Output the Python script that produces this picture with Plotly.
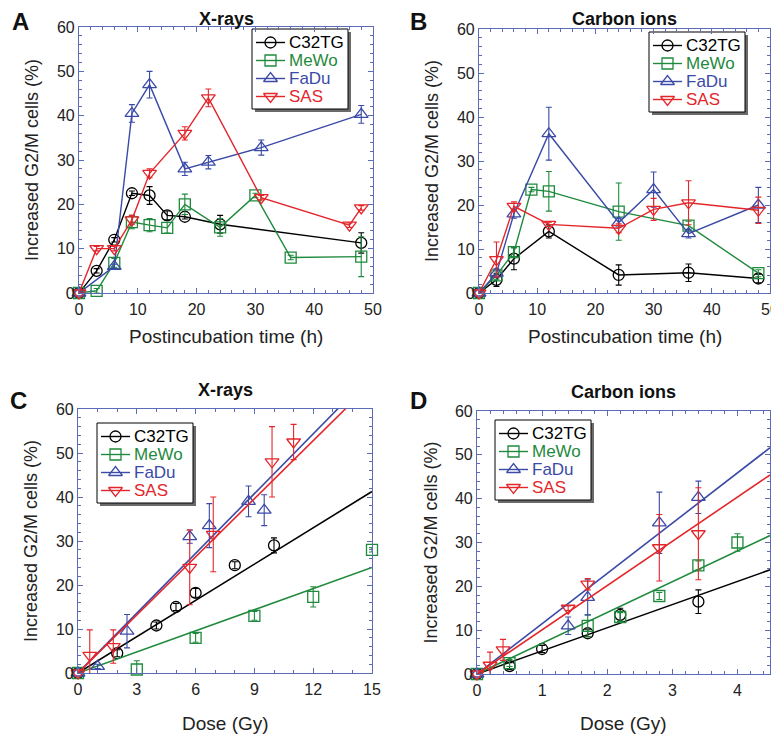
import plotly.graph_objects as go

# ---------------- DATA ----------------
series_names = ["C32TG", "MeWo", "FaDu", "SAS"]

# Panel A: X-rays, time course
a_c32_x = [0, 3, 6, 9, 12, 15, 18, 24, 48]
a_c32_y = [0, 5, 12, 22.5, 22, 17.5, 17.2, 15.5, 11.3]
a_c32_e = [0, 0.5, 0.5, 0.5, 2, 1, 0.5, 2, 2.3]
a_mewo_x = [0, 3, 6, 9, 12, 15, 18, 24, 30, 36, 48]
a_mewo_y = [0, 0.5, 6.8, 16, 15.3, 14.7, 20, 14.8, 22, 8, 8.2]
a_mewo_e = [0, 0.5, 1, 1.5, 1.5, 1.2, 2.3, 2, 0.5, 0.5, 4.5]
a_fadu_x = [0, 6, 9, 12, 18, 22, 31, 48]
a_fadu_y = [0, 6, 40.5, 47, 28, 29.5, 32.8, 40.3]
a_fadu_e = [0, 0.5, 2, 3, 1.5, 1.5, 1.7, 2]
a_sas_x = [0, 3, 6, 9, 12, 18, 22, 31, 46, 48]
a_sas_y = [0, 10, 10, 16.5, 27, 36, 44, 21.5, 15.3, 19.2]
a_sas_e = [0, 0.5, 0.5, 1, 1, 1.5, 2, 0.5, 0.5, 0.5]

# Panel B: Carbon ions, time course
b_c32_x = [0, 3, 6, 12, 24, 36, 48]
b_c32_y = [0, 3, 7.8, 14, 4.1, 4.6, 3.3]
b_c32_e = [0, 1.5, 2.5, 1.5, 2.3, 2, 1]
b_mewo_x = [0, 3, 6, 9, 12, 24, 36, 48]
b_mewo_y = [0, 4, 9.3, 23.5, 23.1, 18.5, 15.3, 4.5]
b_mewo_e = [0, 1, 1, 0.5, 4.5, 6.5, 1, 0.8]
b_fadu_x = [0, 3, 6, 12, 24, 30, 36, 48]
b_fadu_y = [0, 4.5, 18, 36.2, 16, 23.5, 13.5, 20]
b_fadu_e = [0, 1, 1, 6, 1, 4, 1, 4]
b_sas_x = [0, 3, 6, 12, 24, 30, 36, 48]
b_sas_y = [0, 7.6, 19.7, 15.6, 14.7, 19, 20.5, 18.8]
b_sas_e = [0, 4, 1, 0.5, 1, 2.5, 5, 3]

# Panel C: X-rays, dose response
c_c32_x = [0, 2, 4, 5, 6, 8, 10]
c_c32_y = [0, 4.5, 10.8, 15, 18.2, 24.5, 29]
c_c32_e = [0, 0.8, 0.8, 0.8, 1, 0.8, 1.7]
c_mewo_x = [0, 3, 6, 9, 12, 15]
c_mewo_y = [0, 0.8, 8, 13, 17.3, 28]
c_mewo_e = [0, 2, 1, 1, 2.3, 0.5]
c_fadu_x = [0, 1, 2.5, 5.7, 6.7, 8.7, 9.5]
c_fadu_y = [0, 1.5, 9.5, 31, 33.5, 39, 37]
c_fadu_e = [0, 0.5, 3.8, 1.5, 5, 3.5, 3.5]
c_sas_x = [0, 0.6, 1.8, 5.7, 6.9, 9.9, 11]
c_sas_y = [0, 4, 6, 24, 31.5, 48, 52.5]
c_sas_e = [0, 5.8, 3.8, 8.5, 8.5, 8, 4]
c_slopes = [2.75, 1.6, 4.53, 4.40]

# Panel D: Carbon ions, dose response
d_c32_x = [0, 0.5, 1, 1.7, 2.2, 3.4]
d_c32_y = [0, 1.8, 5.7, 9.3, 13.5, 16.5]
d_c32_e = [0, 0.8, 0.8, 0.8, 1.5, 2.7]
d_mewo_x = [0, 0.5, 1.7, 2.2, 2.8, 3.4, 4]
d_mewo_y = [0, 2.5, 11, 13, 17.8, 24.8, 30]
d_mewo_e = [0, 0.8, 2.5, 1, 0.8, 1, 2]
d_fadu_x = [0, 1.4, 1.7, 2.8, 3.4]
d_fadu_y = [0, 11, 17.5, 34.5, 40.3]
d_fadu_e = [0, 2, 4, 7, 3.7]
d_sas_x = [0, 0.2, 0.4, 1.4, 1.7, 2.8, 3.4]
d_sas_y = [0, 2, 5.5, 15, 20.5, 28.8, 32]
d_sas_e = [0, 3, 2.4, 0.5, 1.3, 7.6, 10.5]
d_slopes = [5.28, 7.02, 11.47, 10.09]

panel_titles = ["X-rays", "Carbon ions", "X-rays", "Carbon ions"]
panel_letters = ["A", "B", "C", "D"]
x_titles = ["Postincubation time (h)", "Postincubation time (h)", "Dose (Gy)", "Dose (Gy)"]
y_title = "Increased G2/M cells (%)"

# ---------------- STYLE ----------------
colors = ["#000000", "#1f8a3d", "#3a4aa6", "#e4262b"]
symbols = ["circle-open", "square-open", "triangle-up-open", "triangle-down-open"]
frame = "#5c6cb8"
FONT = "Liberation Sans, Arial, sans-serif"
VW, VH = 779, 735          # browser window
OFF = 8                    # default page body margin
W, H = VW - OFF, VH - OFF  # figure size so it fits the window

# pixel boxes (window coords) of plot areas (left, right, top, bottom)
boxes = [(79, 373, 27, 293), (479, 770, 29, 293), (78, 372, 409, 673), (477, 770, 411, 674)]
xranges = [[0, 50], [0, 50], [0, 15], [0, 4.5]]
xdticks = [10, 10, 3, 1]
legend_boxes = [(252, 29), (649, 32), (97, 423), (495, 420)]
title_y = [19, 19, 390, 392]
letter_pos = [(20, 22), (418, 22), (18, 400), (418, 400)]
xtitle_y = [336, 336, 723, 723]

fig = go.Figure()

def px2x(p):
    return (p - OFF) / W

def px2y(p):
    return 1 - (p - OFF) / H

panels = [
    [(a_c32_x, a_c32_y, a_c32_e), (a_mewo_x, a_mewo_y, a_mewo_e), (a_fadu_x, a_fadu_y, a_fadu_e), (a_sas_x, a_sas_y, a_sas_e)],
    [(b_c32_x, b_c32_y, b_c32_e), (b_mewo_x, b_mewo_y, b_mewo_e), (b_fadu_x, b_fadu_y, b_fadu_e), (b_sas_x, b_sas_y, b_sas_e)],
    [(c_c32_x, c_c32_y, c_c32_e), (c_mewo_x, c_mewo_y, c_mewo_e), (c_fadu_x, c_fadu_y, c_fadu_e), (c_sas_x, c_sas_y, c_sas_e)],
    [(d_c32_x, d_c32_y, d_c32_e), (d_mewo_x, d_mewo_y, d_mewo_e), (d_fadu_x, d_fadu_y, d_fadu_e), (d_sas_x, d_sas_y, d_sas_e)],
]
slopes = [None, None, c_slopes, d_slopes]

annotations = []
shapes = []
layout = {}

def marker_style(i):
    return dict(symbol=symbols[i], size=11 if i < 2 else 12, color=colors[i],
                line=dict(width=1.3, color=colors[i]))

for p in range(4):
    sfx = "" if p == 0 else str(p + 1)
    xa, ya = "x" + sfx, "y" + sfx
    for i in range(4):
        x, y, e = panels[p][i]
        if slopes[p] is not None:
            xmax = xranges[p][1]
            fig.add_trace(go.Scatter(
                x=[0, xmax], y=[0, slopes[p][i] * xmax], mode="lines",
                line=dict(color=colors[i], width=1.6), showlegend=False,
                xaxis=xa, yaxis=ya, hoverinfo="skip"))
        fig.add_trace(go.Scatter(
            x=x, y=y, mode="lines+markers" if slopes[p] is None else "markers",
            name=series_names[i], showlegend=False,
            line=dict(color=colors[i], width=1.4),
            marker=marker_style(i),
            error_y=dict(type="data", array=e, color=colors[i], thickness=1.1, width=3),
            xaxis=xa, yaxis=ya, cliponaxis=False))

    l, r, t, b = boxes[p]
    axis_common = dict(showline=True, mirror="ticks", linecolor=frame, linewidth=1.2,
                       ticks="inside", ticklen=5, tickcolor=frame, tickwidth=1,
                       showgrid=False, zeroline=False, automargin=False,
                       tickfont=dict(family=FONT, size=16, color="#222"),
                       minor=dict(ticks="inside", ticklen=3, tickcolor=frame, showgrid=False))
    layout["xaxis" + sfx] = dict(axis_common, domain=[px2x(l), px2x(r)], range=xranges[p],
                                 dtick=xdticks[p], tick0=0, anchor=ya, ticklabelstandoff=2)
    layout["yaxis" + sfx] = dict(axis_common, domain=[px2y(b), px2y(t)], range=[0, 60],
                                 dtick=10, tick0=0, anchor=xa)

    # axis titles
    annotations.append(dict(text=x_titles[p], xref="paper", yref="paper",
                            x=px2x((l + r) / 2), y=px2y(xtitle_y[p]), xanchor="center", yanchor="middle",
                            showarrow=False, font=dict(family=FONT, size=19, color="#222")))
    annotations.append(dict(text=y_title, xref="paper", yref="paper", textangle=-90,
                            x=px2x(l - 47), y=px2y((t + b) / 2), xanchor="center", yanchor="middle",
                            showarrow=False, font=dict(family=FONT, size=18, color="#222")))
    # titles
    annotations.append(dict(text="<b>" + panel_titles[p] + "</b>", xref="paper", yref="paper",
                            x=px2x((l + r) / 2), y=px2y(title_y[p]), xanchor="center", yanchor="middle",
                            showarrow=False, font=dict(family=FONT, size=18, color="#111")))
    lxp, lyp = letter_pos[p]
    annotations.append(dict(text="<b>" + panel_letters[p] + "</b>", xref="paper", yref="paper",
                            x=px2x(lxp), y=px2y(lyp), xanchor="center", yanchor="middle",
                            showarrow=False, font=dict(family=FONT, size=24, color="#111")))

    # manual legend: shadow + box (below traces), samples on overlay axis, texts as annotations
    lx, ly = legend_boxes[p]
    lw, lh = 96, 80
    shapes.append(dict(type="rect", xref="paper", yref="paper",
                       x0=px2x(lx + 3), x1=px2x(lx + lw + 3), y0=px2y(ly + lh + 3), y1=px2y(ly + 3),
                       fillcolor="#6a6a6a", line=dict(width=0), layer="below"))
    shapes.append(dict(type="rect", xref="paper", yref="paper",
                       x0=px2x(lx), x1=px2x(lx + lw), y0=px2y(ly + lh), y1=px2y(ly),
                       fillcolor="white", line=dict(width=1, color="black"), layer="below"))
    for i in range(4):
        ry = ly + 13.5 + 18 * i
        fig.add_trace(go.Scatter(x=[lx + 4, lx + 33], y=[ry, ry], mode="lines",
                                 line=dict(color=colors[i], width=1.4), showlegend=False,
                                 xaxis="x5", yaxis="y5", hoverinfo="skip"))
        fig.add_trace(go.Scatter(x=[lx + 18.5], y=[ry], mode="markers",
                                 marker=marker_style(i), showlegend=False,
                                 xaxis="x5", yaxis="y5", hoverinfo="skip", cliponaxis=False))
        annotations.append(dict(text=series_names[i], xref="paper", yref="paper",
                                x=px2x(lx + 35), y=px2y(ry), xanchor="left", yanchor="middle",
                                showarrow=False, font=dict(family=FONT, size=17, color=colors[i])))

# overlay axis in window-pixel coordinates for the legend samples
layout["xaxis5"] = dict(domain=[0, 1], range=[OFF, VW], visible=False, anchor="y5", fixedrange=True)
layout["yaxis5"] = dict(domain=[0, 1], range=[VH, OFF], visible=False, anchor="x5", fixedrange=True)

fig.update_layout(width=W, height=H, margin=dict(l=0, r=0, t=0, b=0),
                  paper_bgcolor="white", plot_bgcolor="rgba(0,0,0,0)", showlegend=False,
                  annotations=annotations, shapes=shapes, **layout)
fig.write_html("out.html")
